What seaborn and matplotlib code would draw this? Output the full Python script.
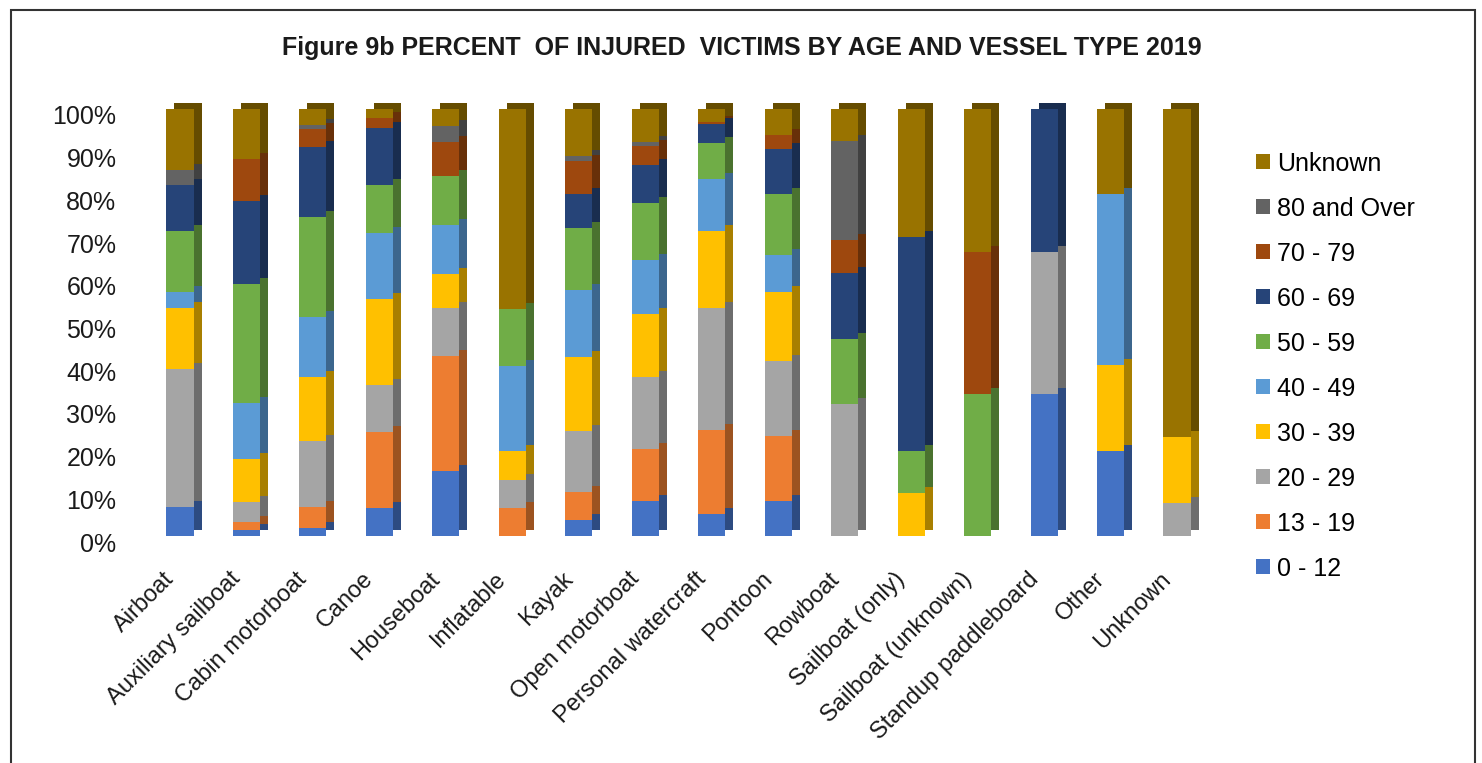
import numpy as np
import pandas as pd
import seaborn as sns
import matplotlib.pyplot as plt
from matplotlib.colors import to_rgb
from matplotlib.patches import Patch, Rectangle
from matplotlib.ticker import PercentFormatter
from matplotlib.transforms import ScaledTranslation

vessels = ["Airboat", "Auxiliary sailboat", "Cabin motorboat", "Canoe", "Houseboat",
           "Inflatable", "Kayak", "Open motorboat", "Personal watercraft", "Pontoon",
           "Rowboat", "Sailboat (only)", "Sailboat (unknown)", "Standup paddleboard",
           "Other", "Unknown"]

age_groups = ["0 - 12", "13 - 19", "20 - 29", "30 - 39", "40 - 49",
              "50 - 59", "60 - 69", "70 - 79", "80 and Over", "Unknown"]

# percent of injured victims, one list per age group (same order as vessels)
age_0_12 = [6.9, 1.4, 1.8, 6.5, 15.2, 0, 3.7, 8.3, 5.1, 8.2, 0, 0, 0, 33.3, 20.0, 0]
age_13_19 = [0, 1.8, 4.9, 17.8, 26.9, 6.5, 6.6, 12.1, 19.8, 15.2, 0, 0, 0, 0, 0, 0]
age_20_29 = [32.2, 4.7, 15.6, 11.1, 11.4, 6.6, 14.4, 16.9, 28.5, 17.6, 30.8, 0, 0, 33.3, 0, 7.7]
age_30_39 = [14.3, 10.1, 15.0, 20.1, 7.8, 6.8, 17.2, 14.7, 18.0, 16.2, 0, 10.0, 0, 0, 20.0, 15.4]
age_40_49 = [3.7, 13.1, 14.1, 15.5, 11.5, 19.9, 15.8, 12.6, 12.3, 8.6, 0, 0, 0, 0, 40.0, 0]
age_50_59 = [14.3, 27.9, 23.4, 11.2, 11.6, 13.3, 14.4, 13.3, 8.4, 14.4, 15.4, 10.0, 33.3, 0, 0, 0]
age_60_69 = [10.7, 19.5, 16.2, 13.4, 0, 0, 7.9, 9.1, 4.3, 10.4, 15.4, 50.0, 0, 33.3, 0, 0]
age_70_79 = [0, 9.8, 4.4, 2.2, 7.8, 0, 7.8, 4.4, 0.6, 3.3, 7.7, 0, 33.3, 0, 0, 0]
age_80_over = [3.6, 0, 0.9, 0, 3.8, 0, 1.3, 0.9, 0, 0, 23.1, 0, 0, 0, 0, 0]
age_unknown = [14.4, 11.7, 3.6, 2.3, 4.0, 46.8, 10.8, 7.7, 3.1, 6.1, 7.7, 30.0, 33.3, 0, 20.0, 76.9]

colors = ["#4472C4", "#ED7D31", "#A5A5A5", "#FFC000", "#5B9BD5",
          "#70AD47", "#264478", "#9E480E", "#636363", "#997300"]

df = pd.DataFrame({
    "0 - 12": age_0_12, "13 - 19": age_13_19, "20 - 29": age_20_29,
    "30 - 39": age_30_39, "40 - 49": age_40_49, "50 - 59": age_50_59,
    "60 - 69": age_60_69, "70 - 79": age_70_79, "80 and Over": age_80_over,
    "Unknown": age_unknown,
}, index=vessels)
cum = df[age_groups].cumsum(axis=1)

plt.rcParams["font.family"] = ["Liberation Sans", "DejaVu Sans"]

fig = plt.figure(figsize=(14.82, 7.63), dpi=100)
ax = fig.add_axes([140 / 1482, 227 / 763, 1077 / 1482, 427 / 763])

# fake 3D: a darker copy shifted up/right, then the front faces on top
side = ScaledTranslation(8 / 100, 6 / 100, fig.dpi_scale_trans)
for layer in ("side", "front"):
    for g, c in reversed(list(zip(age_groups, colors))):
        col = c if layer == "front" else tuple(np.array(to_rgb(c)) * 0.66)
        n = len(ax.patches)
        sns.barplot(x=vessels, y=cum[g].values, color=col, width=0.41,
                    saturation=1, linewidth=0, ax=ax)
        for p in ax.patches[n:]:
            p.set_clip_on(False)
            if layer == "side":
                p.set_transform(ax.transData + side)

ax.set_xlim(-0.6, 15.6)
ax.set_ylim(0, 100)
ax.set_yticks(range(0, 101, 10))
ax.yaxis.set_major_formatter(PercentFormatter(decimals=0))
ax.set_xlabel("")
ax.set_ylabel("")
sns.despine(ax=ax, left=True, bottom=True)

ax.tick_params(axis="y", length=0, pad=17, labelsize=18, labelcolor="#1a1a1a")
ax.tick_params(axis="x", length=0, pad=23, labelsize=17, labelcolor="#1a1a1a")
plt.setp(ax.get_xticklabels(), rotation=45, ha="right", rotation_mode="anchor")
for lab in ax.get_xticklabels():
    lab.set_transform(lab.get_transform() + ScaledTranslation(-0.17, 0, fig.dpi_scale_trans))
for lab in ax.get_yticklabels():
    lab.set_transform(lab.get_transform() + ScaledTranslation(0, -0.06, fig.dpi_scale_trans))

handles = [Patch(facecolor=c, label=g) for g, c in zip(age_groups, colors)][::-1]
fig.legend(handles=handles, loc="center left", bbox_to_anchor=(1256 / 1482, 0.52),
           frameon=False, fontsize=18, handlelength=0.55, handleheight=0.55,
           handletextpad=0.3, labelspacing=0.84, borderpad=0, borderaxespad=0)

fig.text(742 / 1482, 1 - 48 / 763,
         "Figure 9b PERCENT  OF INJURED  VICTIMS BY AGE AND VESSEL TYPE 2019",
         ha="center", va="center", fontsize=18, fontweight="bold", color="#1a1a1a")

fig.patches.append(Rectangle((11 / 1482, -0.02), 1464 / 1482, 1 - 10 / 763 + 0.02,
                             transform=fig.transFigure, fill=False,
                             edgecolor="#333333", linewidth=1.5))

fig.savefig("out.png", dpi=100, facecolor="white")
